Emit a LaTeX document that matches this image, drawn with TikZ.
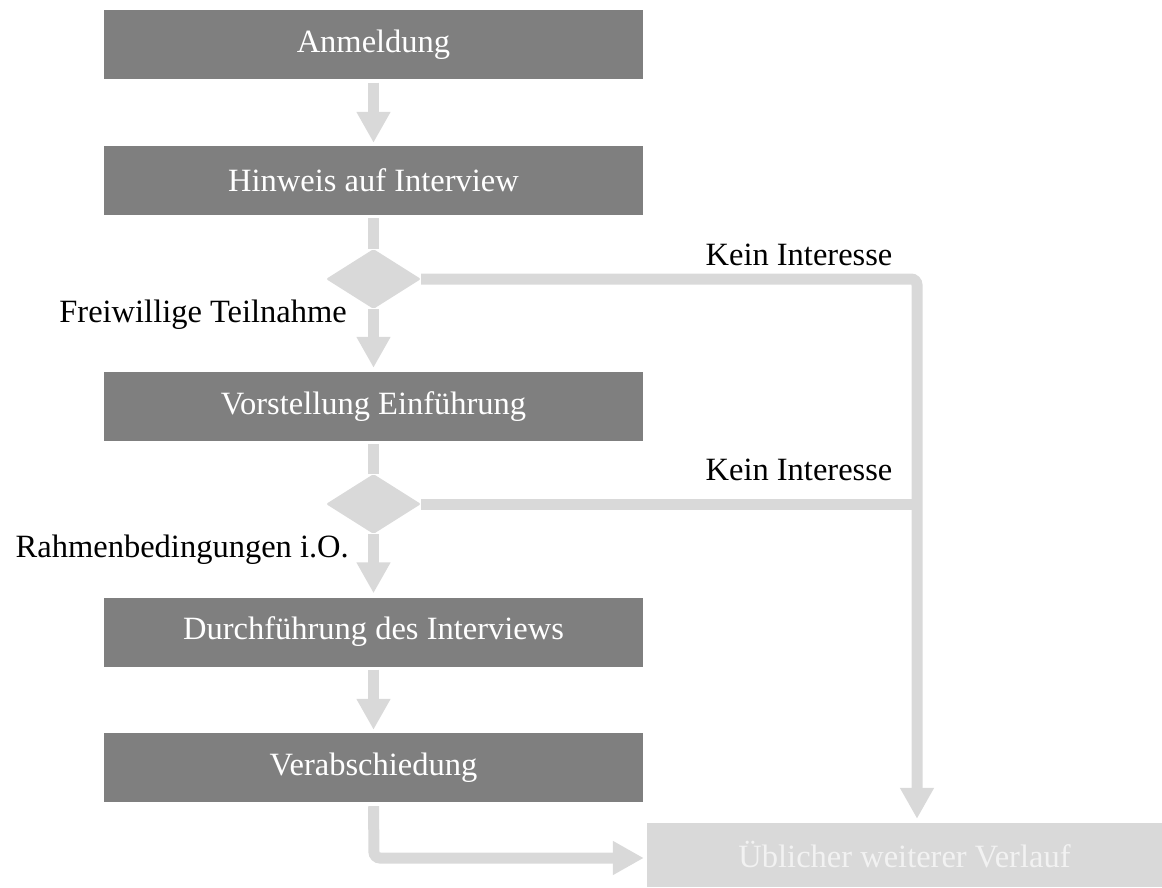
\documentclass[tikz,border=0pt]{standalone}
\usepackage{fontspec}
\setmainfont{Liberation Serif}
\usetikzlibrary{shapes.geometric,arrows.meta}
\definecolor{boxgray}{HTML}{7F7F7F}
\definecolor{flowgray}{HTML}{D9D9D9}
\definecolor{ghost}{HTML}{F2F2F2}
\tikzset{
  stepbox/.style={rectangle, fill=boxgray, text=white, minimum width=539pt, minimum height=69pt, inner sep=0pt, font=\fontsize{32.5}{38}\selectfont},
  endbox/.style={rectangle, fill=flowgray, text=ghost, minimum width=515pt, minimum height=64pt, inner sep=0pt, font=\fontsize{32.5}{38}\selectfont},
  decision/.style={diamond, fill=flowgray, minimum width=95pt, minimum height=60pt, inner sep=0pt, rounded corners=2pt},
  flow/.style={draw=flowgray, line width=11pt},
  flowarrow/.style={flow, -{Triangle[width=32pt,length=31pt]}},
  lbl/.style={font=\fontsize{32.5}{38}\selectfont, inner sep=0pt, text=black}
}
\begin{document}
\begin{tikzpicture}[x=1pt,y=-1pt]
\useasboundingbox (0,0) rectangle (1162,888);
\node[stepbox] (a1) at (373.5,45) {Anmeldung};
\node[stepbox] (a2) at (373.5,180.5) {Hinweis auf Interview};
\node[decision] (d1) at (373.5,279) {};
\node[stepbox] (a3) at (373.5,406.5) {Vorstellung Einführung};
\node[decision] (d2) at (373.5,504) {};
\node[stepbox] (a4) at (373.5,632) {Durchführung des Interviews};
\node[stepbox] (a5) at (373.5,767.5) {Verabschiedung};
\node[endbox] (a6) at (904.5,855) {Üblicher weiterer Verlauf};
\coordinate (c1) at (917,279);
\coordinate (c2) at (917,504);
\coordinate (c3) at (374,858);
% vertical chain
\draw[flowarrow, shorten <=3pt, shorten >=3pt] (a1.south) -- (a2.north);
\draw[flow, shorten <=3pt] (a2.south) -- (d1.north);
\draw[flowarrow, shorten >=4pt] (d1.south) -- (a3.north);
\draw[flow, shorten <=3pt] (a3.south) -- (d2.north);
\draw[flowarrow, shorten >=4pt] (d2.south) -- (a4.north);
\draw[flowarrow, shorten <=3pt, shorten >=3pt] (a4.south) -- (a5.north);
% right branch
\draw[flowarrow, rounded corners=6pt, shorten >=4pt] (d1.east) -- (c1) -- (c1 |- a6.north);
\draw[flow] (d2.east) -- (c2);
% bottom
\draw[flowarrow, rounded corners=6pt, shorten <=4pt, shorten >=3pt] (a5.south) -- (c3) -- (c3 -| a6.west);
% labels
\node[lbl, anchor=base] (l1) at (799,265) {Kein Interesse};
\node[lbl, anchor=base] (l2) at (799,480) {Kein Interesse};
\node[lbl, anchor=base east] (l3) at (347,322) {Freiwillige Teilnahme};
\node[lbl, anchor=base east] (l4) at (349,557) {Rahmenbedingungen i.O.};
\end{tikzpicture}
\end{document}
